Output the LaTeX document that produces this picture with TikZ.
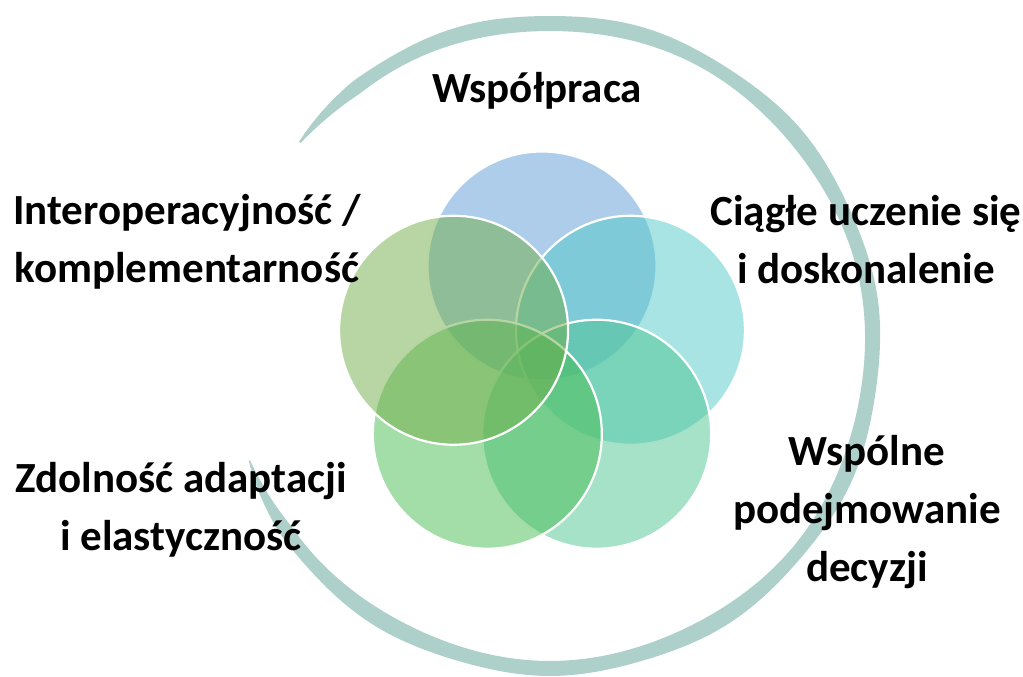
\documentclass[tikz,border=0pt]{standalone}
\usepackage{fontspec}
\setmainfont{Carlito}
\usetikzlibrary{calc}

\definecolor{ringcol}{RGB}{174,208,203}
\definecolor{petalA}{RGB}{91,155,213}
\definecolor{petalB}{RGB}{81,201,201}
\definecolor{petalC}{RGB}{77,197,145}
\definecolor{petalD}{RGB}{71,187,81}
\definecolor{petalE}{RGB}{112,173,71}

\tikzset{
  petal/.style={circle, minimum size=229pt, inner sep=0pt, fill opacity=0.5, draw=white, draw opacity=1, line width=2.2pt},
  petaltext/.style={align=center, font=\fontsize{43}{58}\selectfont\bfseries, text=black}
}

\begin{document}
\begin{tikzpicture}[x=1pt,y=1pt]
\useasboundingbox (0,0) rectangle (1023,677);

% Brush ring
\fill[ringcol] plot[domain=-159:141, samples=180, variable=\t]
  ({550+(322+8*min(1,(\t+159)/14)*min(1,(141-\t)/14)+1.0*sin(11*\t))*cos(\t)},
   {332+(322+8*min(1,(\t+159)/14)*min(1,(141-\t)/14)+1.0*sin(11*\t))*sin(\t)})
  -- plot[domain=141:-159, samples=180, variable=\t]
  ({550+(322-7*min(1,(\t+159)/14)*min(1,(141-\t)/14)+1.0*sin(7*\t))*cos(\t)},
   {332+(322-7*min(1,(\t+159)/14)*min(1,(141-\t)/14)+1.0*sin(7*\t))*sin(\t)})
  -- cycle;

% Petals
\coordinate (mid) at (542,318);
\node[petal, fill=petalA] (wsp) at ($(mid)+(90:93)$) {};
\node[petal, fill=petalB] (ucz) at ($(mid)+(18:93)$) {};
\node[petal, fill=petalC] (dec) at ($(mid)+(-54:93)$) {};
\node[petal, fill=petalD] (ada) at ($(mid)+(-126:93)$) {};
\node[petal, fill=petalE] (int) at ($(mid)+(162:93)$) {};

% Labels
\node[petaltext] (twsp) at (537,586) {Współpraca};
\node[petaltext] (tint) at (187,435) {Interoperacyjność /\\komplementarność};
\node[petaltext] (tucz) at (866,437) {Ciągłe uczenie się\\i doskonalenie};
\node[petaltext] (tdec) at (867,165) {Wspólne\\podejmowanie\\decyzji};
\node[petaltext] (tada) at (181,167) {Zdolność adaptacji\\i elastyczność};

\end{tikzpicture}
\end{document}
